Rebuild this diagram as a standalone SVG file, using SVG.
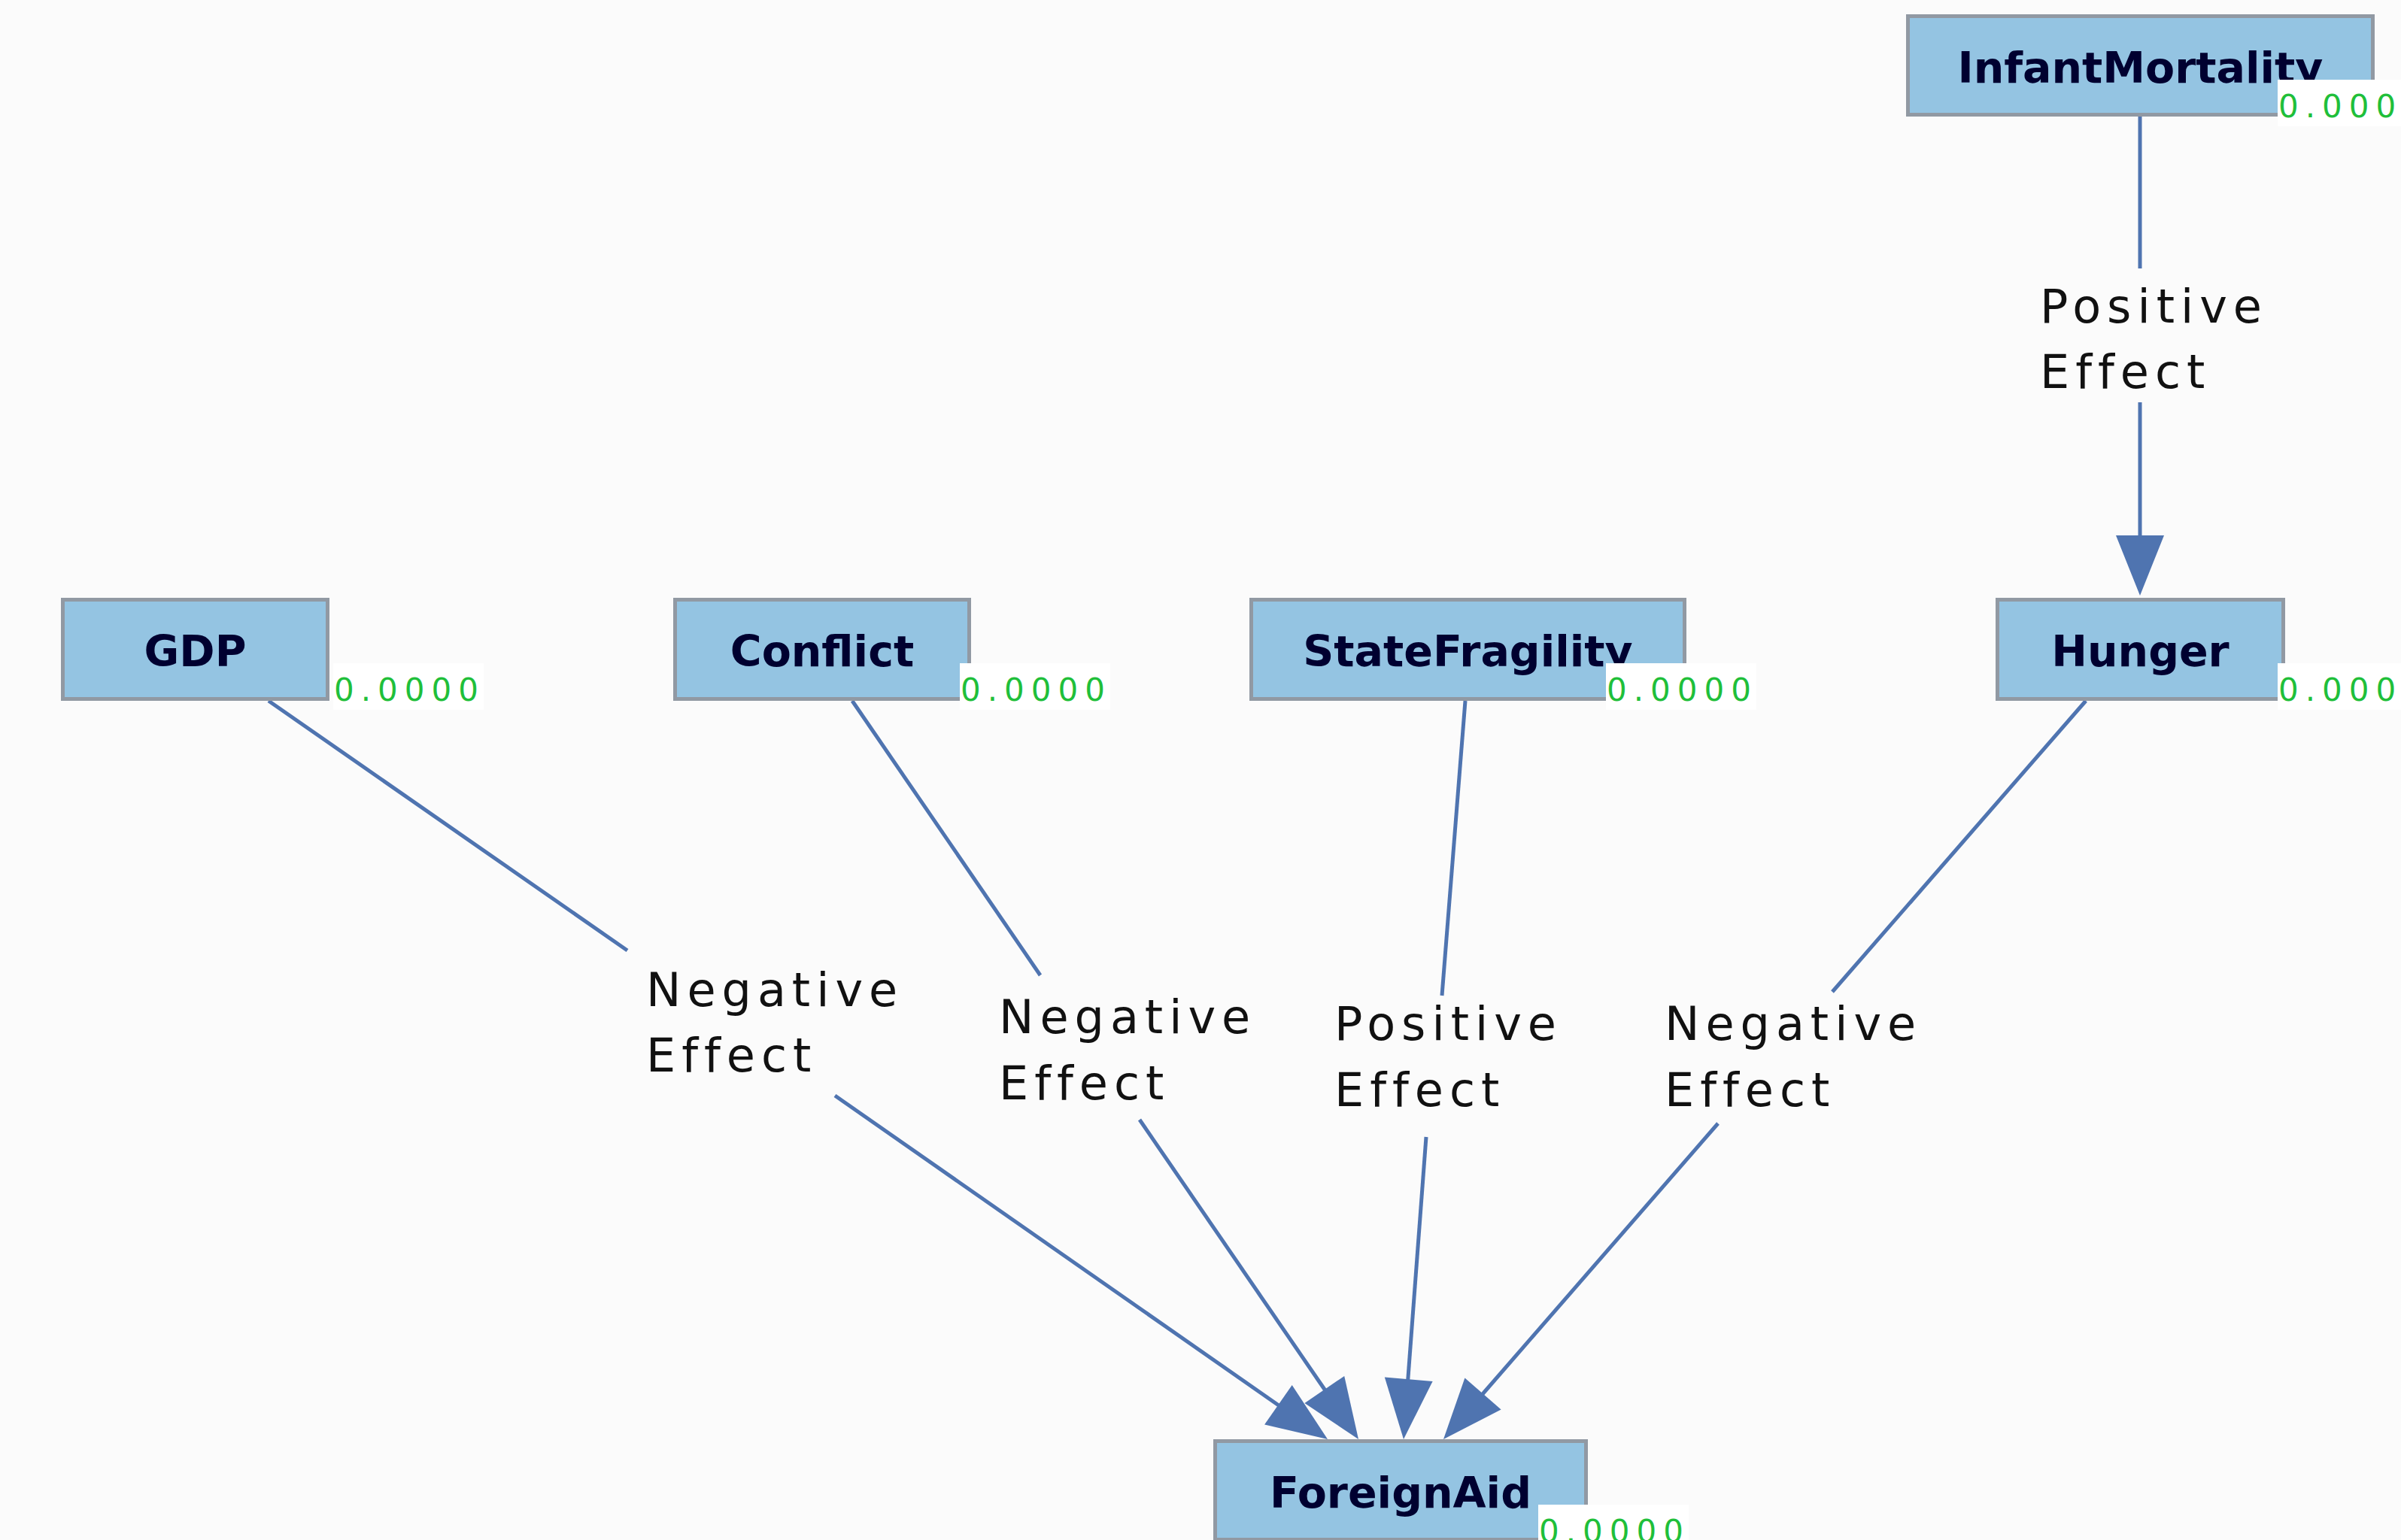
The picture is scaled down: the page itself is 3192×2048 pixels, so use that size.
<svg xmlns="http://www.w3.org/2000/svg" width="3192" height="2048" viewBox="0 0 3192 2048">
<style>
.box{fill:#94c4e2;stroke:#9199a3;stroke-width:5}
.name{font-family:"DejaVu Sans",Verdana,sans-serif;font-weight:bold;font-size:57px;fill:#000030;text-anchor:middle}
.valbg{fill:#ffffff}
.val{font-family:"DejaVu Sans",Verdana,sans-serif;font-size:42px;fill:#1fbf3a;letter-spacing:9px}
.edge line{stroke:#4f74b0;stroke-width:5;fill:none}
.head{fill:#4f74b0}
.lbl{font-family:"DejaVu Sans",Verdana,sans-serif;font-size:62px;fill:#111111;letter-spacing:8px}
</style>
<rect x="0" y="0" width="3192" height="2048" fill="#fbfbfb"/>
<g id="connectors" class="edge">
  <g id="e-infant-hunger">
    <line x1="2845" y1="155" x2="2845" y2="357"/>
    <line x1="2845" y1="535" x2="2845" y2="720"/>
    <polygon class="head" points="2845,792 2813,712 2877,712"/>
    <text class="lbl" x="2712" y="429">Positive</text>
    <text class="lbl" x="2712" y="516">Effect</text>
  </g>
  <g id="e-gdp-aid">
    <line x1="357" y1="932" x2="834" y2="1264"/>
    <line x1="1110" y1="1457" x2="1710" y2="1876"/>
    <polygon class="head" points="1765,1914 1681.1,1894.4 1717.7,1842"/>
    <text class="lbl" x="859" y="1338">Negative</text>
    <text class="lbl" x="859" y="1425">Effect</text>
  </g>
  <g id="e-conflict-aid">
    <line x1="1133" y1="932" x2="1383" y2="1297"/>
    <line x1="1515" y1="1489" x2="1768" y2="1858"/>
    <polygon class="head" points="1806,1914 1734.4,1866.1 1787.2,1829.9"/>
    <text class="lbl" x="1328" y="1374">Negative</text>
    <text class="lbl" x="1328" y="1462">Effect</text>
  </g>
  <g id="e-state-aid">
    <line x1="1948" y1="932" x2="1917" y2="1324"/>
    <line x1="1896" y1="1512" x2="1871" y2="1845"/>
    <polygon class="head" points="1866,1914 1840.8,1831.6 1904.6,1837"/>
    <text class="lbl" x="1774" y="1383">Positive</text>
    <text class="lbl" x="1774" y="1471">Effect</text>
  </g>
  <g id="e-hunger-aid">
    <line x1="2773" y1="932" x2="2436" y2="1319"/>
    <line x1="2284" y1="1494" x2="1964" y2="1862"/>
    <polygon class="head" points="1919,1914 1947.4,1832.6 1995.6,1874.6"/>
    <text class="lbl" x="2213" y="1383">Negative</text>
    <text class="lbl" x="2213" y="1471">Effect</text>
  </g>
</g>
<g id="node-infantmortality">
  <rect class="box" x="2536.5" y="21.5" width="618" height="131"/>
  <text class="name" x="2845.5" y="110">InfantMortality</text>
  <rect class="valbg" x="3028" y="106" width="200" height="62"/>
  <text class="val" x="3029" y="156">0.0000</text>
</g>
<g id="node-gdp">
  <rect class="box" x="83.5" y="797.5" width="352" height="132"/>
  <text class="name" x="259.5" y="886">GDP</text>
  <rect class="valbg" x="443" y="882" width="200" height="62"/>
  <text class="val" x="444" y="932">0.0000</text>
</g>
<g id="node-conflict">
  <rect class="box" x="897.5" y="797.5" width="391" height="132"/>
  <text class="name" x="1093" y="886">Conflict</text>
  <rect class="valbg" x="1276" y="882" width="200" height="62"/>
  <text class="val" x="1277" y="932">0.0000</text>
</g>
<g id="node-statefragility">
  <rect class="box" x="1663.5" y="797.5" width="576" height="132"/>
  <text class="name" x="1951.5" y="886">StateFragility</text>
  <rect class="valbg" x="2135" y="882" width="200" height="62"/>
  <text class="val" x="2136" y="932">0.0000</text>
</g>
<g id="node-hunger">
  <rect class="box" x="2655.5" y="797.5" width="380" height="132"/>
  <text class="name" x="2845.5" y="886">Hunger</text>
  <rect class="valbg" x="3028" y="882" width="200" height="62"/>
  <text class="val" x="3029" y="932">0.0000</text>
</g>
<g id="node-foreignaid">
  <rect class="box" x="1615.5" y="1916.5" width="493" height="131"/>
  <text class="name" x="1862" y="2005">ForeignAid</text>
  <rect class="valbg" x="2045" y="2001" width="200" height="62"/>
  <text class="val" x="2046" y="2051">0.0000</text>
</g>
</svg>
